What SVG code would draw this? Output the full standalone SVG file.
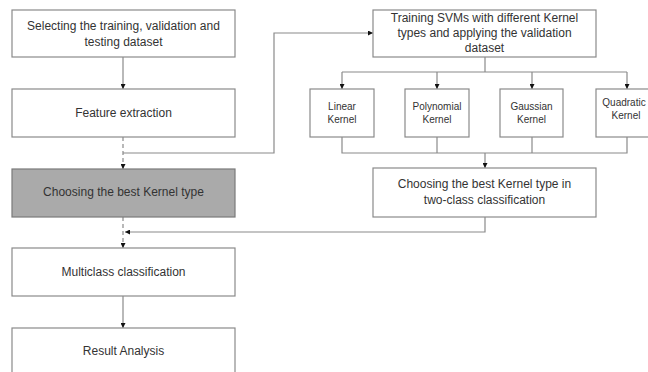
<svg xmlns="http://www.w3.org/2000/svg" width="648" height="372" viewBox="0 0 648 372">
<style>
.box{fill:#fff;stroke:#8a8a8a;stroke-width:1.2}
.gray{fill:#aaaaaa;stroke:#7a7a7a;stroke-width:1.2}
.t{font-family:"Liberation Sans",Arial,sans-serif;font-size:12px;fill:#333;text-anchor:middle}
.k{font-family:"Liberation Sans",Arial,sans-serif;font-size:10px;fill:#333;text-anchor:middle}
.c{fill:none;stroke:#8a8a8a;stroke-width:1.2}
.d{fill:none;stroke:#8a8a8a;stroke-width:1.2;stroke-dasharray:4 3}
</style>
<defs>
<marker id="ah" viewBox="0 0 10 10" refX="10" refY="5" markerWidth="5" markerHeight="5" orient="auto" markerUnits="userSpaceOnUse">
<path d="M0,0 L10,5 L0,10 Z" fill="#111"/>
</marker>
</defs>
<rect width="648" height="372" fill="#fff"/>
<g id="connectors">
<path class="c" d="M123,57 V89" marker-end="url(#ah)"/>
<path class="d" d="M123,137 V169" marker-end="url(#ah)"/>
<path class="c" d="M123,153 H274 V33 H373" marker-end="url(#ah)"/>
<path class="c" d="M485,57 V72"/>
<path class="c" d="M342,72 H627"/>
<path class="c" d="M342,72 V89" marker-end="url(#ah)"/>
<path class="c" d="M437,72 V89" marker-end="url(#ah)"/>
<path class="c" d="M532,72 V89" marker-end="url(#ah)"/>
<path class="c" d="M627,72 V89" marker-end="url(#ah)"/>
<path class="c" d="M342,137 V153 H627 V137"/>
<path class="c" d="M437,137 V153"/>
<path class="c" d="M532,137 V153"/>
<path class="c" d="M485,153 V168" marker-end="url(#ah)"/>
<path class="c" d="M485,217 V232 H125" marker-end="url(#ah)"/>
<path class="d" d="M123,217 V248" marker-end="url(#ah)"/>
<path class="c" d="M123,296 V328" marker-end="url(#ah)"/>
</g>
<g id="select">
<rect class="box" x="12" y="10" width="223" height="47"/>
<text class="t" x="123.5" y="30">Selecting the training, validation and</text>
<text class="t" x="123.5" y="46">testing dataset</text>
</g>
<g id="feature">
<rect class="box" x="12" y="89" width="223" height="48"/>
<text class="t" x="123.5" y="117">Feature extraction</text>
</g>
<g id="best">
<rect class="gray" x="12" y="169" width="223" height="48"/>
<text class="t" x="123.5" y="196">Choosing the best Kernel type</text>
</g>
<g id="multi">
<rect class="box" x="12" y="248" width="223" height="48"/>
<text class="t" x="123.5" y="276">Multiclass classification</text>
</g>
<g id="result">
<rect class="box" x="12" y="328" width="223" height="50"/>
<text class="t" x="123.5" y="355">Result Analysis</text>
</g>
<g id="training">
<rect class="box" x="373" y="10" width="223" height="47"/>
<text class="t" x="484.5" y="22">Training SVMs with different Kernel</text>
<text class="t" x="484.5" y="37">types and applying the validation</text>
<text class="t" x="484.5" y="52">dataset</text>
</g>
<g id="linear">
<rect class="box" x="310" y="89" width="64" height="48"/>
<text class="k" x="342" y="110">Linear</text>
<text class="k" x="342" y="123">Kernel</text>
</g>
<g id="poly">
<rect class="box" x="405" y="89" width="64" height="48"/>
<text class="k" x="437" y="110">Polynomial</text>
<text class="k" x="437" y="123">Kernel</text>
</g>
<g id="gauss">
<rect class="box" x="500" y="89" width="63" height="48"/>
<text class="k" x="531.5" y="110">Gaussian</text>
<text class="k" x="531.5" y="123">Kernel</text>
</g>
<g id="quad">
<rect class="box" x="596" y="89" width="64" height="48"/>
<text class="k" x="624" y="106">Quadratic</text>
<text class="k" x="626" y="119">Kernel</text>
</g>
<g id="twoclass">
<rect class="box" x="373" y="168" width="223" height="49"/>
<text class="t" x="484.5" y="188">Choosing the best Kernel type in</text>
<text class="t" x="484.5" y="204">two-class classification</text>
</g>
</svg>
